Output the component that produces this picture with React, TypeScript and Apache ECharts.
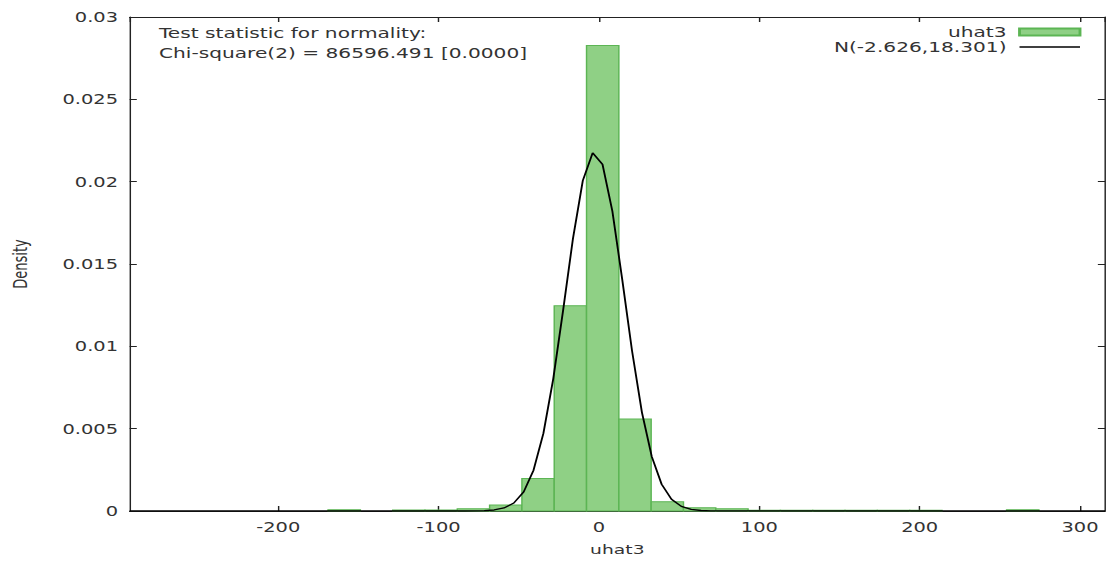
import React, { useEffect, useRef } from 'react';
import * as echarts from 'echarts';

// Histogram of uhat3 (bin left edges, common width, density)
const binStart = [
  -168.95, -148.8, -128.65, -108.5, -88.35, -68.2, -48.05, -27.9, -7.75, 12.4, 32.55,
  52.7, 72.85, 93.0, 113.15, 133.3, 153.45, 173.6, 193.75, 213.9, 234.05, 254.2,
];
const binWidth = 20.15;
const binDensity = [
  0.00008, 0, 0.00006, 0.00006, 0.00014, 0.00036, 0.00197, 0.01247, 0.02827, 0.00558, 0.00056,
  0.0002, 0.00014, 0.00004, 0.00004, 0.00004, 0.00004, 0.00004, 0.00004, 0, 0, 0.00008,
];

// Fitted normal curve N(-2.626, 18.301), points read along the drawn polyline
const normX = [
  -292.7, -89.948, -83.804, -77.66, -71.516, -65.372, -59.228, -53.084, -46.94, -40.796, -34.652,
  -28.508, -22.364, -16.22, -10.076, -3.932, 2.212, 8.356, 14.5, 20.644, 26.788, 32.932, 39.076,
  45.22, 51.364, 57.508, 63.652, 69.796, 75.94, 315.6,
];
const normY = [
  0, 0.0000002, 0.0000012, 0.0000049, 0.0000183, 0.0000611, 0.0001824, 0.000487, 0.001162,
  0.002476, 0.004714, 0.00802, 0.012186, 0.016543, 0.020066, 0.021744, 0.02105, 0.018208, 0.01407,
  0.009714, 0.005991, 0.003302, 0.001626, 0.000715, 0.000281, 0.0000986, 0.0000309, 0.0000087,
  0.0000022, 0,
];

const xMin = -292.7;
const xMax = 315.6;
const yMin = 0;
const yMax = 0.03;
const yStep = 0.005;

const seriesNames = ['uhat3', 'N(-2.626,18.301)'];
const xName = 'uhat3';
const yName = 'Density';
const annotationLines = ['Test statistic for normality:', 'Chi-square(2) = 86596.491 [0.0000]'];

const SCALE = 1.44;
const W = 769;
const H = 561;

export default function App() {
  const ref = useRef<HTMLDivElement>(null);

  useEffect(() => {
    if (!ref.current) return;
    const chart = echarts.init(ref.current, null, { renderer: 'svg' });
    const FONT = 'DejaVu Sans';
    const TXT = '#333';
    const AX = '#222';
    const FILL = '#8fd085';
    const BORDER = '#5cb554';

    const histData = binStart.map((s, i) => [s, s + binWidth, binDensity[i]]);
    const lineData = normX.map((x, i) => [x, normY[i]]);

    const axisLine = { show: true, onZero: false, lineStyle: { color: AX, width: 1 } };
    const axisTick = { show: true, inside: true, length: 5, lineStyle: { color: AX, width: 1 } };

    const option: any = {
      animation: false,
      backgroundColor: '#fff',
      grid: { left: 88.7, right: 1.6, top: 17, bottom: 46, containLabel: false },
      xAxis: [
        {
          type: 'value',
          min: xMin,
          max: xMax,
          position: 'bottom',
          name: xName,
          nameLocation: 'middle',
          nameGap: 32,
          nameTextStyle: { fontFamily: FONT, fontSize: 13, color: TXT },
          axisLine,
          axisTick,
          axisLabel: {
            margin: 9,
            fontFamily: FONT,
            fontSize: 13.5,
            color: TXT,
            showMinLabel: false,
            showMaxLabel: false,
          },
          splitLine: { show: false },
        },
        {
          type: 'value',
          min: xMin,
          max: xMax,
          position: 'top',
          axisLine,
          axisTick,
          axisLabel: { show: false },
          splitLine: { show: false },
        },
      ],
      yAxis: [
        {
          type: 'value',
          min: yMin,
          max: yMax,
          interval: yStep,
          position: 'left',
          name: yName,
          nameLocation: 'middle',
          nameRotate: 90,
          nameGap: 69,
          nameTextStyle: { fontFamily: FONT, fontSize: 13, color: TXT },
          axisLine,
          axisTick,
          axisLabel: { margin: 8, fontFamily: FONT, fontSize: 13.5, color: TXT },
          splitLine: { show: false },
        },
        {
          type: 'value',
          min: yMin,
          max: yMax,
          interval: yStep,
          position: 'right',
          axisLine,
          axisTick,
          axisLabel: { show: false },
          splitLine: { show: false },
        },
      ],
      legend: {
        orient: 'vertical',
        right: 18,
        top: 25,
        align: 'right',
        itemWidth: 42,
        itemHeight: 7,
        itemGap: 1,
        padding: 0,
        textStyle: { fontFamily: FONT, fontSize: 14, color: TXT, padding: [0, 4, 0, 0] },
        data: [
          { name: seriesNames[0], icon: 'rect' },
          {
            name: seriesNames[1],
            itemStyle: { color: 'rgba(0,0,0,0)', borderColor: 'rgba(0,0,0,0)', borderWidth: 0, opacity: 0 },
            lineStyle: { color: '#000', width: 1.3 },
          },
        ],
      },
      graphic: [
        {
          type: 'text',
          left: 110.4,
          top: 23,
          style: {
            text: annotationLines.join('\n'),
            fontFamily: FONT,
            fontSize: 14,
            lineHeight: 20,
            fill: TXT,
          },
        },
      ],
      series: [
        {
          type: 'custom',
          name: seriesNames[0],
          xAxisIndex: 0,
          yAxisIndex: 0,
          encode: { x: [0, 1], y: 2 },
          itemStyle: { color: FILL, borderColor: BORDER, borderWidth: 1 },
          renderItem: (params: any, api: any) => {
            const x0 = api.value(0);
            const x1 = api.value(1);
            const v = api.value(2);
            if (!v) return null;
            const p0 = api.coord([x0, v]);
            const p1 = api.coord([x1, 0]);
            return {
              type: 'rect',
              shape: { x: p0[0], y: p0[1], width: p1[0] - p0[0], height: p1[1] - p0[1] },
              style: { fill: FILL, stroke: BORDER, lineWidth: 1 },
            };
          },
          data: histData,
          z: 2,
        },
        {
          type: 'line',
          name: seriesNames[1],
          xAxisIndex: 0,
          yAxisIndex: 0,
          data: lineData,
          symbol: 'none',
          showSymbol: false,
          lineStyle: { color: '#000', width: 1.3 },
          itemStyle: { color: '#000' },
          z: 3,
        },
      ],
    };

    chart.setOption(option);
    return () => chart.dispose();
  }, []);

  return (
    <div
      style={{
        position: 'fixed',
        left: 0,
        top: 0,
        width: 1107,
        height: 561,
        overflow: 'hidden',
        background: '#fff',
      }}
    >
      <div
        ref={ref}
        style={{ width: W, height: H, transform: `scaleX(${SCALE})`, transformOrigin: '0 0' }}
      />
    </div>
  );
}
